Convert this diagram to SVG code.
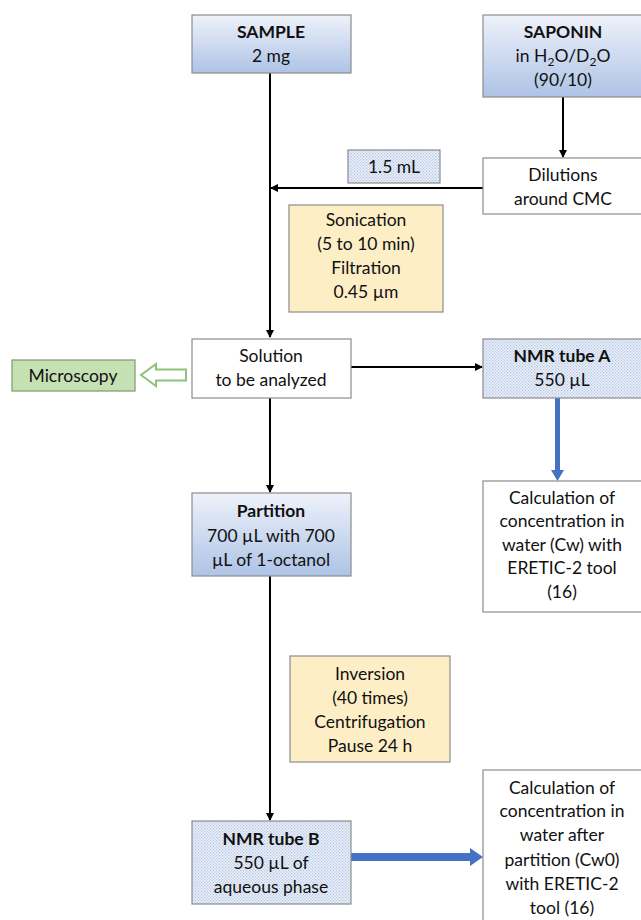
<svg xmlns="http://www.w3.org/2000/svg" width="641" height="920" viewBox="0 0 641 920">
<defs>
<linearGradient id="blueGrad" x1="0" y1="0" x2="0" y2="1">
<stop offset="0" stop-color="#eef2fa"/>
<stop offset="1" stop-color="#aec3e6"/>
</linearGradient>
<pattern id="dots" width="3" height="3" patternUnits="userSpaceOnUse">
<rect width="3" height="3" fill="#eaf0f9"/>
<rect x="0" y="0" width="1.2" height="1.2" fill="#b3c4e2"/>
<rect x="1.5" y="1.5" width="1.2" height="1.2" fill="#b3c4e2"/>
</pattern>
<marker id="ah" markerWidth="8" markerHeight="8" refX="7" refY="4" orient="auto" markerUnits="userSpaceOnUse">
<path d="M0,0 L8,4 L0,8 Z" fill="#000"/>
</marker>
</defs>
<style>
text{font-family:Lato,"Open Sans","Liberation Sans",sans-serif;font-size:17.5px;fill:#111;text-anchor:middle}
.b{font-weight:bold}
.box{stroke:#8c8c8c;stroke-width:1.2}
.grad{fill:url(#blueGrad)}
.dot{fill:url(#dots)}
.yel{fill:#fdeec6}
.wht{fill:#fff}
.grn{fill:#c5e0b3;stroke:#7a9a6a}
.ln{stroke:#000;stroke-width:2;fill:none}
.blue{fill:#4472c4}
</style>
<g id="connectors">
<line class="ln" x1="270" y1="73" x2="270" y2="337" marker-end="url(#ah)"/>
<line class="ln" x1="563" y1="97" x2="563" y2="157" marker-end="url(#ah)"/>
<line class="ln" x1="483" y1="188" x2="271" y2="188" marker-end="url(#ah)"/>
<line class="ln" x1="351" y1="367" x2="482" y2="367" marker-end="url(#ah)"/>
<line class="ln" x1="270" y1="398" x2="270" y2="492" marker-end="url(#ah)"/>
<line class="ln" x1="270" y1="576" x2="270" y2="820" marker-end="url(#ah)"/>
<path class="blue" d="M555,398 L560,398 L560,470 L564,470 L557.5,481 L551,470 L555,470 Z"/>
<path class="blue" d="M351,853 L470,853 L470,848 L483,857 L470,866 L470,861 L351,861 Z"/>
<path d="M186,369.5 L156,369.5 L156,364 L141,375 L156,386 L156,380.5 L186,380.5 Z" fill="#fff" stroke="#8fc27a" stroke-width="2"/>
</g>
<g id="sample">
<rect class="box grad" x="192" y="15" width="159" height="58"/>
<text class="b" x="271" y="38">SAMPLE</text>
<text x="271" y="62">2 mg</text>
</g>
<g id="saponin">
<rect class="box grad" x="483" y="15" width="160" height="82"/>
<text class="b" x="563" y="38">SAPONIN</text>
<text x="563" y="62">in H<tspan font-size="12" dy="4">2</tspan><tspan dy="-4">O/D</tspan><tspan font-size="12" dy="4">2</tspan><tspan dy="-4">O</tspan></text>
<text x="563" y="86">(90/10)</text>
</g>
<g id="dilutions">
<rect class="box wht" x="483" y="158" width="160" height="56"/>
<text x="563" y="181">Dilutions</text>
<text x="563" y="205">around CMC</text>
</g>
<g id="vol">
<rect class="box dot" x="348" y="150" width="92" height="33"/>
<text x="394" y="173">1.5 mL</text>
</g>
<g id="sonication">
<rect class="box yel" x="289" y="205" width="154" height="107"/>
<text x="366" y="226">Sonication</text>
<text x="366" y="250">(5 to 10 min)</text>
<text x="366" y="274">Filtration</text>
<text x="366" y="298">0.45 µm</text>
</g>
<g id="solution">
<rect class="box wht" x="192" y="339" width="159" height="59"/>
<text x="271" y="362">Solution</text>
<text x="271" y="386">to be analyzed</text>
</g>
<g id="microscopy">
<rect class="box grn" x="12" y="360" width="123" height="31"/>
<text x="73" y="382">Microscopy</text>
</g>
<g id="nmrA">
<rect class="box dot" x="483" y="339" width="160" height="59"/>
<text class="b" x="562" y="362">NMR tube A</text>
<text x="562" y="386">550 µL</text>
</g>
<g id="calc1">
<rect class="box wht" x="483" y="481" width="160" height="131"/>
<text x="562" y="504">Calculation of</text>
<text x="562" y="527">concentration in</text>
<text x="562" y="551">water (Cw) with</text>
<text x="562" y="574">ERETIC-2 tool</text>
<text x="562" y="598">(16)</text>
</g>
<g id="partition">
<rect class="box grad" x="192" y="493" width="159" height="83"/>
<text class="b" x="271" y="517">Partition</text>
<text x="271" y="542">700 µL with 700</text>
<text x="271" y="566">µL of 1-octanol</text>
</g>
<g id="inversion">
<rect class="box yel" x="290" y="656" width="160" height="106"/>
<text x="370" y="680">Inversion</text>
<text x="370" y="704">(40 times)</text>
<text x="370" y="728">Centrifugation</text>
<text x="370" y="752">Pause 24 h</text>
</g>
<g id="nmrB">
<rect class="box dot" x="192" y="821" width="159" height="83"/>
<text class="b" x="271" y="845">NMR tube B</text>
<text x="271" y="869">550 µL of</text>
<text x="271" y="893">aqueous phase</text>
</g>
<g id="calc2">
<rect class="box wht" x="483" y="770" width="160" height="160"/>
<text x="562" y="794">Calculation of</text>
<text x="562" y="817">concentration in</text>
<text x="562" y="841">water after</text>
<text x="562" y="866">partition (Cw0)</text>
<text x="562" y="890">with ERETIC-2</text>
<text x="562" y="914">tool (16)</text>
</g>
</svg>
